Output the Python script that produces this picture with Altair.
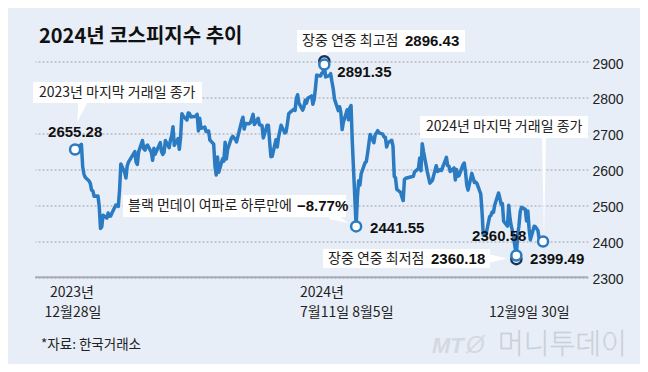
import altair as alt
import pandas as pd

# ---------------- data (KOSPI daily close) ----------------
dates = [
    "2023-12-28",
    "2024-01-02", "2024-01-03", "2024-01-04", "2024-01-05", "2024-01-08", "2024-01-09", "2024-01-10",
    "2024-01-11", "2024-01-12", "2024-01-15", "2024-01-16", "2024-01-17", "2024-01-18", "2024-01-19",
    "2024-01-22", "2024-01-23", "2024-01-24", "2024-01-25", "2024-01-26", "2024-01-29", "2024-01-30",
    "2024-01-31",
    "2024-02-01", "2024-02-02", "2024-02-05", "2024-02-06", "2024-02-07", "2024-02-08", "2024-02-13",
    "2024-02-14", "2024-02-15", "2024-02-16", "2024-02-19", "2024-02-20", "2024-02-21", "2024-02-22",
    "2024-02-23", "2024-02-26", "2024-02-27", "2024-02-28", "2024-02-29",
    "2024-03-04", "2024-03-05", "2024-03-06", "2024-03-07", "2024-03-08", "2024-03-11", "2024-03-12",
    "2024-03-13", "2024-03-14", "2024-03-15", "2024-03-18", "2024-03-19", "2024-03-20", "2024-03-21",
    "2024-03-22", "2024-03-25", "2024-03-26", "2024-03-27", "2024-03-28", "2024-03-29",
    "2024-04-01", "2024-04-02", "2024-04-03", "2024-04-04", "2024-04-05", "2024-04-08", "2024-04-09",
    "2024-04-11", "2024-04-12", "2024-04-15", "2024-04-16", "2024-04-17", "2024-04-18", "2024-04-19",
    "2024-04-22", "2024-04-23", "2024-04-24", "2024-04-25", "2024-04-26", "2024-04-29", "2024-04-30",
    "2024-05-02", "2024-05-03", "2024-05-07", "2024-05-08", "2024-05-09", "2024-05-10", "2024-05-13",
    "2024-05-14", "2024-05-16", "2024-05-17", "2024-05-20", "2024-05-21", "2024-05-22", "2024-05-23",
    "2024-05-24", "2024-05-27", "2024-05-28", "2024-05-29", "2024-05-30", "2024-05-31",
    "2024-06-03", "2024-06-04", "2024-06-05", "2024-06-07", "2024-06-10", "2024-06-11", "2024-06-12",
    "2024-06-13", "2024-06-14", "2024-06-17", "2024-06-18", "2024-06-19", "2024-06-20", "2024-06-21",
    "2024-06-24", "2024-06-25", "2024-06-26", "2024-06-27", "2024-06-28",
    "2024-07-01", "2024-07-02", "2024-07-03", "2024-07-04", "2024-07-05", "2024-07-08", "2024-07-09",
    "2024-07-10", "2024-07-11", "2024-07-12", "2024-07-15", "2024-07-16", "2024-07-17", "2024-07-18",
    "2024-07-19", "2024-07-22", "2024-07-23", "2024-07-24", "2024-07-25", "2024-07-26", "2024-07-29",
    "2024-07-30", "2024-07-31",
    "2024-08-01", "2024-08-02", "2024-08-05", "2024-08-06", "2024-08-07", "2024-08-08", "2024-08-09",
    "2024-08-12", "2024-08-13", "2024-08-14", "2024-08-16", "2024-08-19", "2024-08-20", "2024-08-21",
    "2024-08-22", "2024-08-23", "2024-08-26", "2024-08-27", "2024-08-28", "2024-08-29", "2024-08-30",
    "2024-09-02", "2024-09-03", "2024-09-04", "2024-09-05", "2024-09-06", "2024-09-09", "2024-09-10",
    "2024-09-11", "2024-09-12", "2024-09-13", "2024-09-19", "2024-09-20", "2024-09-23", "2024-09-24",
    "2024-09-25", "2024-09-26", "2024-09-27", "2024-09-30",
    "2024-10-02", "2024-10-04", "2024-10-07", "2024-10-08", "2024-10-10", "2024-10-11", "2024-10-14",
    "2024-10-15", "2024-10-16", "2024-10-17", "2024-10-18", "2024-10-21", "2024-10-22", "2024-10-23",
    "2024-10-24", "2024-10-25", "2024-10-28", "2024-10-29", "2024-10-30", "2024-10-31",
    "2024-11-01", "2024-11-04", "2024-11-05", "2024-11-06", "2024-11-07", "2024-11-08", "2024-11-11",
    "2024-11-12", "2024-11-13", "2024-11-14", "2024-11-15", "2024-11-18", "2024-11-19", "2024-11-20",
    "2024-11-21", "2024-11-22", "2024-11-25", "2024-11-26", "2024-11-27", "2024-11-28", "2024-11-29",
    "2024-12-02", "2024-12-03", "2024-12-04", "2024-12-05", "2024-12-06", "2024-12-09", "2024-12-10",
    "2024-12-11", "2024-12-12", "2024-12-13", "2024-12-16", "2024-12-17", "2024-12-18", "2024-12-19",
    "2024-12-20", "2024-12-23", "2024-12-24", "2024-12-26", "2024-12-27", "2024-12-30",
]
kospi = [
    2655.28,
    2669.81, 2607.31, 2587.02, 2578.08, 2567.82, 2561.24, 2541.98,
    2540.27, 2525.05, 2525.99, 2497.59, 2435.90, 2440.04, 2472.74,
    2464.35, 2478.61, 2469.69, 2470.34, 2478.56, 2500.65, 2498.81,
    2497.09,
    2542.46, 2615.31, 2591.31, 2576.20, 2609.58, 2620.32, 2649.64,
    2620.42, 2613.80, 2648.76, 2680.26, 2657.79, 2653.31, 2664.27,
    2667.70, 2647.08, 2625.05, 2658.68, 2642.36,
    2674.27, 2649.40, 2641.49, 2647.62, 2680.35, 2660.64, 2681.81,
    2693.57, 2718.76, 2666.84, 2685.84, 2656.17, 2690.14, 2754.86,
    2748.56, 2737.57, 2757.09, 2755.11, 2745.82, 2746.63,
    2747.86, 2753.16, 2706.97, 2742.00, 2714.21, 2717.65, 2705.16,
    2706.96, 2681.82, 2670.43, 2609.63, 2584.18, 2634.70, 2591.86,
    2629.44, 2623.02, 2675.75, 2628.62, 2656.33, 2687.44, 2692.06,
    2683.65, 2676.63, 2734.36, 2745.05, 2712.14, 2727.63, 2727.21,
    2730.34, 2753.00, 2724.62, 2742.14, 2724.18, 2723.46, 2721.81,
    2687.60, 2722.99, 2722.85, 2677.30, 2635.44, 2636.52,
    2682.52, 2662.10, 2689.50, 2722.67, 2701.17, 2705.31, 2728.17,
    2754.89, 2758.42, 2766.92, 2763.92, 2797.33, 2807.63, 2784.06,
    2764.73, 2774.39, 2792.05, 2784.26, 2797.82,
    2804.31, 2780.86, 2794.01, 2824.94, 2862.23, 2859.70, 2867.38,
    2867.99, 2891.35, 2857.00, 2860.92, 2866.09, 2843.79, 2824.35,
    2795.46, 2763.51, 2774.29, 2758.71, 2710.65, 2731.90, 2765.52,
    2738.19, 2770.69,
    2777.68, 2676.19, 2441.55, 2522.15, 2568.41, 2556.73, 2588.43,
    2618.30, 2621.50, 2644.50, 2697.23, 2674.36, 2696.63, 2701.13,
    2707.67, 2701.69, 2698.01, 2689.83, 2689.25, 2662.28, 2674.31,
    2681.00, 2664.63, 2580.80, 2576.26, 2544.28, 2535.93, 2523.43,
    2513.37, 2572.09, 2575.41, 2580.80, 2593.37, 2602.01, 2631.68,
    2596.32, 2671.57, 2649.78, 2593.27,
    2561.69, 2569.71, 2610.38, 2594.36, 2599.16, 2596.91, 2623.29,
    2633.45, 2610.36, 2609.30, 2593.94, 2604.06, 2570.70, 2599.62,
    2581.03, 2583.27, 2612.43, 2617.80, 2593.79, 2556.15,
    2542.36, 2588.97, 2576.88, 2563.51, 2564.63, 2561.15, 2531.66,
    2482.57, 2417.08, 2418.86, 2416.86, 2469.07, 2471.95, 2481.69,
    2480.63, 2501.24, 2534.34, 2520.36, 2503.06, 2504.67, 2455.91,
    2442.51, 2500.10, 2464.00, 2441.85, 2428.16, 2360.58, 2417.84,
    2442.01, 2482.12, 2494.46, 2488.97, 2456.81, 2484.43, 2435.93,
    2404.15, 2442.01, 2440.52, 2429.67, 2404.77, 2399.49,
]

# highlighted closes
mark_dates = ["2023-12-28", "2024-07-11", "2024-08-05", "2024-12-09", "2024-12-30"]
mark_values = [2655.28, 2891.35, 2441.55, 2360.58, 2399.49]
# intraday extremes
high_date, high_value = "2024-07-11", 2896.43
low_date, low_value = "2024-12-09", 2360.18

y_ticks = [2300, 2400, 2500, 2600, 2700, 2800, 2900]

# ---------------- styling ----------------
KR = "Noto Sans CJK KR"
NUM = "Liberation Sans"
BLUE = "#2b7bc2"
NAVY = "#1c3454"
BG = "#e8eef7"
TXT = "#222222"
OX, OY = 35, 61.5  # page position of plot origin

df = pd.DataFrame({"date": pd.to_datetime(dates), "value": kospi})
one = pd.DataFrame({"k": [0]})

xscale = alt.Scale(domain=[alt.DateTime(year=2023, month=11, date=26, hours=12),
                           alt.DateTime(year=2025, month=2, date=3, hours=8)])
yscale = alt.Scale(domain=[2300, 2900], nice=False, zero=False)
yaxis = alt.Axis(orient="right", values=y_ticks, tickCount=7, grid=True, gridDash=[2, 2],
                 gridColor="#9ea6b2", gridWidth=1, domain=False, ticks=False,
                 format="d", labelOverlap=False, labelFlush=False,
                 labelFont=NUM, labelFontSize=14, labelColor=TXT, labelPadding=4,
                 labelOffset=2.5, labelBaseline="middle", title=None)


def X():
    return alt.X("date:T", axis=None, scale=xscale)


def Y():
    return alt.Y("value:Q", scale=yscale, axis=yaxis)


line = alt.Chart(df).mark_line(color=BLUE, strokeWidth=3.5, strokeJoin="round",
                               strokeCap="round").encode(x=X(), y=Y())

base_rule = alt.Chart(one).mark_rule(color="#a6adb7", strokeWidth=2).encode(
    y=alt.datum(2300, scale=yscale, axis=yaxis))


def text(s, Xp, Yp, size=14, weight="normal", font=KR, align="left", color=TXT, **kw):
    return alt.Chart(one).mark_text(text=s, font=font, fontSize=size, fontWeight=weight,
                                    align=align, baseline="middle", color=color, **kw).encode(
        x=alt.value(Xp - OX), y=alt.value(Yp - OY))


def box(X1, Y1, X2, Y2):
    return alt.Chart(one).mark_rect(color="white").encode(
        x=alt.value(X1 - OX), x2=alt.value(X2 - OX), y=alt.value(Y1 - OY), y2=alt.value(Y2 - OY))


def tail(Xc, Yc, length, width, angle):
    a = width / length
    path = f"M {-a:.3f} -1 L {a:.3f} -1 L 0 1 Z"
    return alt.Chart(one).mark_point(shape=path, size=length ** 2, angle=angle, filled=True,
                                     color="white", opacity=1, strokeWidth=0).encode(
        x=alt.value(Xc - OX), y=alt.value(Yc - OY))


def vlabel(d, v, dx, dy, align="left"):
    src = pd.DataFrame({"date": pd.to_datetime([d]), "value": [v]})
    return alt.Chart(src).mark_text(text=f"{v:.2f}", font=NUM, fontSize=15, fontWeight="bold",
                                    align=align, baseline="middle", dx=dx, dy=dy,
                                    color="#111111").encode(x=X(), y=Y())


def ring_dark(d, v, off):
    src = pd.DataFrame({"date": pd.to_datetime([d]), "value": [v]})
    return alt.Chart(src).mark_point(shape="circle", size=100, filled=False, stroke=NAVY,
                                     strokeWidth=2.5, opacity=1).encode(
        x=X(), y=Y(), yOffset=alt.value(off))


pts = pd.DataFrame({"date": pd.to_datetime(mark_dates), "value": mark_values})
rings = alt.Chart(pts).mark_point(shape="circle", size=100, filled=True, fill="white",
                                  stroke=BLUE, strokeWidth=2.5, opacity=1).encode(x=X(), y=Y())

layers = [
    base_rule,
    line,
    # callout tails
    tail(80, 112, 20, 9, 15),
    tail(324, 55, 7, 9, 0),
    tail(339.5, 219, 19, 9, 295),
    tail(544, 187, 100, 4, 0),
    tail(498.5, 258.5, 17, 8, 270),
    # callout boxes
    box(33, 82, 202, 103),
    box(297, 30, 465, 52),
    box(123, 195, 346, 217),
    box(420, 116, 588, 138),
    box(323, 249, 490, 268),
    ring_dark(high_date, high_value, -1.5),
    ring_dark(low_date, low_value, 3.5),
    rings,
    # title
    text("2024년 코스피지수 추이", 39, 36.5, size=20, weight="bold", color="#111111"),
    # callout texts
    text("2023년 마지막 거래일 종가", 39, 92.5),
    text("장중 연중 최고점", 302, 41),
    text(f"{high_value:.2f}", 405, 41, size=15, weight="bold", font=NUM, color="#111111"),
    text("블랙 먼데이 여파로 하루만에", 128, 206),
    text("−8.77%", 297, 206, size=15, weight="bold", font=NUM, color="#111111"),
    text("2024년 마지막 거래일 종가", 426, 127),
    text("장중 연중 최저점", 328, 258.5),
    text(f"{low_value:.2f}", 431, 258.5, size=15, weight="bold", font=NUM, color="#111111"),
    # value labels anchored to data
    vlabel("2023-12-28", 2655.28, -27, -18),
    vlabel("2024-07-11", 2891.35, 13, 7),
    vlabel("2024-08-05", 2441.55, 14, 2),
    vlabel("2024-12-09", 2360.58, 10, -20, align="right"),
    vlabel("2024-12-30", 2399.49, -13, 17),
    # date labels
    text("2023년", 72, 293, align="center"),
    text("12월28일", 73, 313, align="center"),
    text("2024년", 300, 293),
    text("7월11일 8월5일", 300, 313),
    text("12월9일 30일", 489, 313),
    # source & logo
    text("*자료: 한국거래소", 41, 345, size=13.5),
    text("MT", 432, 346, size=22, weight="bold", font=NUM, color="#d3d9e2", fontStyle="italic"),
    text("Ø", 466, 346, size=24, font=NUM, color="#d3d9e2", fontStyle="italic"),
    text("머니투데이", 498, 346, size=28, weight=100, color="#f2f5fa",
         stroke="#c3cad4", strokeWidth=0.7),
]

chart = alt.layer(*layers).properties(
    width=553, height=215.8, background=BG,
    padding={"left": 27, "top": 53.5, "right": 52, "bottom": 86.7},
    autosize=alt.AutoSizeParams(type="none"),
).configure_view(stroke=None)

chart.save("out.html", embed_options={"renderer": "svg", "actions": False})
